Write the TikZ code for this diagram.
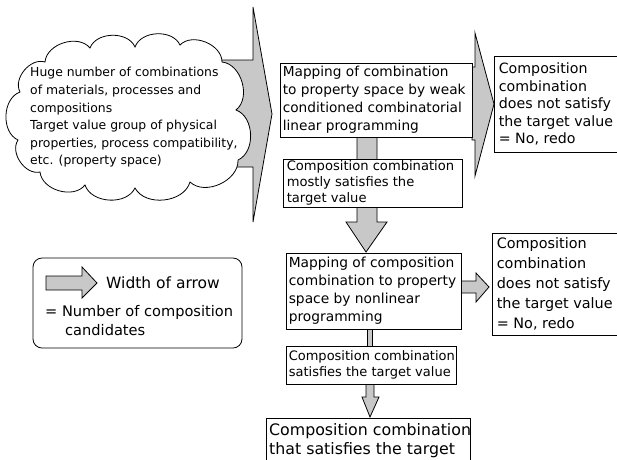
\documentclass[tikz,border=0pt]{standalone}
\usepackage{fontspec}
\setmainfont{DejaVu Sans}
\definecolor{agray}{RGB}{200,200,200}
\tikzset{
 box/.style={draw, fill=white, line width=0.8pt, rectangle, inner sep=0pt},
 txt/.style={align=left, inner sep=0pt, anchor=west},
 fat/.style={draw, fill=agray, line width=0.8pt, line join=miter},
 puff/.style={bend right=68},
}
\newcommand{\fs}[2]{\fontsize{#1}{#2}\selectfont}
\begin{document}
\begin{tikzpicture}[x=1pt,y=-1pt]
\useasboundingbox (0,0) rectangle (617,459);
% big arrow behind the cloud
\draw[fat] (150,60) -- (253,60) -- (253,7) -- (272,114) -- (253,222) -- (253,167) -- (150,167) -- cycle;
% cloud
\draw[line width=0.8pt, fill=white] (238,160) coordinate (cloud) to[puff] (236,110) to[puff] (222,62)
  to[puff] (180,45) to[puff] (135,47) to[puff] (90,48) to[puff] (45,62)
  to[puff] (20,92) to[puff] (18,140) to[puff] (40,172) to[puff] (85,185)
  to[puff] (135,188) to[puff] (190,182) to[puff] (238,160);
\node[txt, font=\fs{12.4}{17.6}] (cloudtxt) at (30,117.5) {Huge number of combinations\\of materials, processes and\\compositions\\Target value group of physical\\properties, process compatibility,\\etc. (property space)};
% arrows of the first stage
\draw[fat] (472,67) -- (475,67) -- (475,33) -- (494,104) -- (475,176) -- (475,140) -- (472,140) -- cycle;
\draw[fat] (357,137) -- (357,222) -- (346,222) -- (366,252) -- (387,222) -- (377,222) -- (377,137) -- cycle;
% box 1
\node[box, minimum width=192pt, minimum height=74pt] (b1) at (376,100) {};
\node[txt, font=\fs{13.7}{18}] (b1t) at ([xshift=3pt]b1.west) {Mapping of combination\\to property space by weak\\conditioned combinatorial\\linear programming};
% box no 1
\node[box, minimum width=132pt, minimum height=96pt] (n1) at (560,104) {};
\node[txt, font=\fs{14.2}{17.5}] (n1t) at ([xshift=5pt]n1.west) {Composition\\combination\\does not satisfy\\the target value\\= No, redo};
% box 2
\node[box, minimum width=179pt, minimum height=48pt] (b2) at (372.5,183) {};
\node[txt, font=\fs{13.1}{15.8}] (b2t) at ([xshift=4pt]b2.west) {Composition combination\\mostly satisfies the\\target value};
% second stage arrows
\draw[fat] (461,281) -- (476,281) -- (476,273) -- (489,287) -- (476,302) -- (476,293) -- (461,293) -- cycle;
\draw[fat] (367,329) rectangle (372,346);
\draw[fat] (366,384) -- (366,397) -- (362,397) -- (370,417) -- (379,397) -- (374,397) -- (374,384) -- cycle;
% box 3
\node[box, minimum width=175pt, minimum height=76pt] (b3) at (373.5,291) {};
\node[txt, font=\fs{13.8}{18}] (b3t) at ([xshift=3pt]b3.west) {Mapping of composition\\combination to property\\space by nonlinear\\programming};
% box no 2
\node[box, minimum width=134pt, minimum height=102pt] (n2) at (559,284) {};
\node[txt, font=\fs{14.4}{20}] (n2t) at ([xshift=5pt]n2.west) {Composition\\combination\\does not satisfy\\the target value\\= No, redo};
% box 5
\node[box, minimum width=170pt, minimum height=38pt] (b5) at (371,365) {};
\node[txt, font=\fs{13}{16.5}] (b5t) at ([xshift=3pt]b5.west) {Composition combination\\satisfies the target value};
% box 6
\node[box, minimum width=204pt, minimum height=60pt] (b6) at (368,448) {};
\node[txt, anchor=north west, font=\fs{15.8}{19}] (b6t) at (269,423) {Composition combination\\that satisfies the target};
% legend
\node[draw, rounded corners=9pt, line width=0.8pt, minimum width=209pt, minimum height=90pt, inner sep=0pt] (leg) at (137.5,303) {};
\draw[fat] (46,276) -- (82,276) -- (82,267) -- (97,283) -- (82,298) -- (82,290) -- (46,290) -- cycle;
\node[txt, font=\fs{15.5}{19}] (legw) at (106,283) {Width of arrow};
\node[txt, anchor=north west, font=\fs{14.6}{19}] (legn) at (45,305) {= Number of composition\\\hspace*{20pt}candidates};
\end{tikzpicture}
\end{document}
